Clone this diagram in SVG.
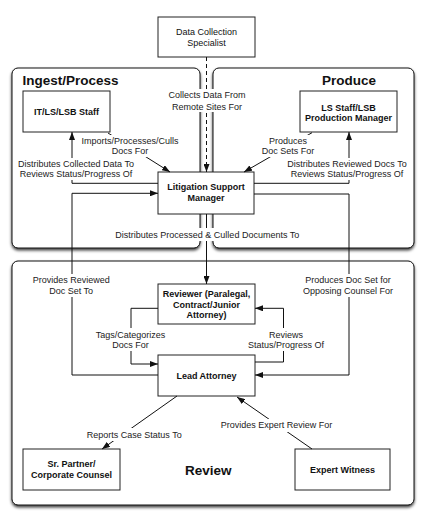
<svg xmlns="http://www.w3.org/2000/svg" width="425" height="516" viewBox="0 0 425 516">
<style>
.panel{fill:#fff;stroke:#111;stroke-width:1}
.node{fill:#fff;stroke:#222;stroke-width:1}
.title{font-family:"Liberation Sans",Arial,sans-serif;font-size:13.5px;font-weight:bold;fill:#111}
.nt{font-family:"Liberation Sans",Arial,sans-serif;font-size:9px;font-weight:bold;fill:#111;text-anchor:middle}
.nr{font-family:"Liberation Sans",Arial,sans-serif;font-size:9px;fill:#111;text-anchor:middle}
.ln{fill:none;stroke:#111;stroke-width:1}
.lb{fill:#fff;stroke:none}
.lt{font-family:"Liberation Sans",Arial,sans-serif;font-size:9px;fill:#222;text-anchor:middle}
</style>
<defs>
<filter id="sh" x="-10%" y="-10%" width="120%" height="125%">
<feDropShadow dx="0" dy="2" stdDeviation="1.8" flood-color="#000" flood-opacity="0.75"/>
</filter>
<marker id="ar" markerUnits="userSpaceOnUse" markerWidth="8" markerHeight="6" refX="8" refY="3" orient="auto">
<path d="M0,0 L8,3 L0,6 z" fill="#111"/>
</marker>
</defs>
<rect width="425" height="516" fill="#fff"/>

<g id="panel-ingest">
<rect class="panel" x="12" y="68" width="188" height="180" rx="6" filter="url(#sh)"/>
<text class="title" x="22.5" y="85">Ingest/Process</text>
</g>
<g id="panel-produce">
<rect class="panel" x="213" y="68" width="201" height="180" rx="6" filter="url(#sh)"/>
<text class="title" x="376" y="85" text-anchor="end">Produce</text>
</g>
<g id="panel-review">
<rect class="panel" x="12" y="261" width="402" height="244" rx="6" filter="url(#sh)"/>
<text class="title" x="185" y="475">Review</text>
</g>

<g id="node-dcs">
<rect class="node" x="158" y="17" width="97" height="40"/>
<text class="nr" x="206.5" y="35">Data Collection</text>
<text class="nr" x="206.5" y="45.5">Specialist</text>
</g>
<g id="node-itstaff">
<rect class="node" x="23" y="91" width="87" height="41"/>
<text class="nt" x="66.5" y="115">IT/LS/LSB Staff</text>
</g>
<g id="node-lsstaff">
<rect class="node" x="300" y="91" width="97" height="41"/>
<text class="nt" x="348.5" y="110.5">LS Staff/LSB</text>
<text class="nt" x="348.5" y="121">Production Manager</text>
</g>
<g id="node-lsm">
<rect class="node" x="158" y="172" width="96" height="42"/>
<text class="nt" x="206" y="190">Litigation Support</text>
<text class="nt" x="206" y="200.5">Manager</text>
</g>
<g id="node-reviewer">
<rect class="node" x="158" y="284" width="97" height="40"/>
<text class="nt" x="206.5" y="297.3">Reviewer (Paralegal,</text>
<text class="nt" x="206.5" y="307.6">Contract/Junior</text>
<text class="nt" x="206.5" y="318">Attorney)</text>
</g>
<g id="node-lead">
<rect class="node" x="158" y="355" width="97" height="41"/>
<text class="nt" x="206.5" y="378.5">Lead Attorney</text>
</g>
<g id="node-partner">
<rect class="node" x="23" y="449" width="97" height="41"/>
<text class="nt" x="71.5" y="466.5">Sr. Partner/</text>
<text class="nt" x="71.5" y="478">Corporate Counsel</text>
</g>
<g id="node-expert">
<rect class="node" x="295" y="449" width="95" height="41"/>
<text class="nt" x="342.5" y="473">Expert Witness</text>
</g>

<g id="connectors">
<path class="ln" d="M206.5,57 V172" stroke-dasharray="4,3" marker-end="url(#ar)"/>
<path class="ln" d="M108,133 L170,172" marker-end="url(#ar)"/>
<path class="ln" d="M158,183.3 H72 V132" marker-end="url(#ar)"/>
<path class="ln" d="M158,375 H72 V193.3 H158" marker-end="url(#ar)"/>
<path class="ln" d="M312,132.7 L244,172" marker-end="url(#ar)"/>
<path class="ln" d="M254,183.3 H349 V132" marker-end="url(#ar)"/>
<path class="ln" d="M254,194 H349 V375 H255" marker-end="url(#ar)"/>
<path class="ln" d="M206.5,214 V284" marker-end="url(#ar)"/>
<path class="ln" d="M158,308.3 H131 V364 H158" marker-end="url(#ar)"/>
<path class="ln" d="M255,362 H283.5 V308.3 H255" marker-end="url(#ar)"/>
<path class="ln" d="M177,396 L102,449" marker-end="url(#ar)"/>
<path class="ln" d="M312,449 L237,397" marker-end="url(#ar)"/>

<rect class="lb" x="165" y="89" width="84" height="23"/>
<text class="lt" x="207" y="98.3">Collects Data From</text>
<text class="lt" x="207" y="109.8">Remote Sites For</text>

<rect class="lb" x="79" y="135" width="101" height="22"/>
<text class="lt" x="130" y="144">Imports/Processes/Culls</text>
<text class="lt" x="130" y="154">Docs For</text>

<rect class="lb" x="15" y="158" width="122" height="22"/>
<text class="lt" x="76" y="167.2">Distributes Collected Data To</text>
<text class="lt" x="76" y="177.3">Reviews Status/Progress Of</text>

<rect class="lb" x="260" y="135" width="56" height="22"/>
<text class="lt" x="288" y="144">Produces</text>
<text class="lt" x="288" y="154">Doc Sets For</text>

<rect class="lb" x="285" y="158" width="124" height="22"/>
<text class="lt" x="347" y="167.2">Distributes Reviewed Docs To</text>
<text class="lt" x="347" y="177.3">Reviews Status/Progress Of</text>

<rect class="lb" x="112" y="228" width="190" height="13"/>
<text class="lt" x="207.3" y="237.5">Distributes Processed &amp; Culled Documents To</text>

<rect class="lb" x="30" y="274" width="82" height="23"/>
<text class="lt" x="71.2" y="283.2">Provides Reviewed</text>
<text class="lt" x="71.2" y="294.2">Doc Set To</text>

<rect class="lb" x="302" y="274" width="94" height="23"/>
<text class="lt" x="348" y="283.2">Produces Doc Set for</text>
<text class="lt" x="348" y="294.2">Opposing Counsel For</text>

<rect class="lb" x="93" y="328" width="74" height="23"/>
<text class="lt" x="130.5" y="337.5">Tags/Categorizes</text>
<text class="lt" x="130.5" y="347.6">Docs For</text>

<rect class="lb" x="242" y="328" width="90" height="23"/>
<text class="lt" x="286" y="337.5">Reviews</text>
<text class="lt" x="286" y="347.6">Status/Progress Of</text>

<rect class="lb" x="85" y="428" width="99" height="13"/>
<text class="lt" x="134.2" y="437.5">Reports Case Status To</text>

<rect class="lb" x="218" y="419" width="117" height="13"/>
<text class="lt" x="276.5" y="428.2">Provides Expert Review For</text>
</g>
</svg>
